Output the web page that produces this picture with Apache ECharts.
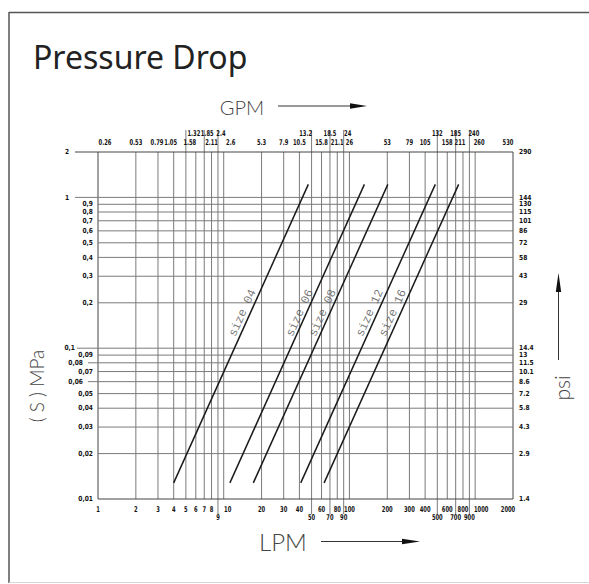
<!DOCTYPE html>
<html><head><meta charset="utf-8">
<script src="https://cdn.jsdelivr.net/npm/echarts@6/dist/echarts.min.js"></script>
<style>html,body{margin:0;padding:0;background:#fff}#c{width:589px;height:584px}</style>
</head><body><div id="c"></div>
<script>
// ---------- data ----------
const lpmTicks = [1,2,3,4,5,6,7,8,9,10,20,30,40,50,60,70,80,90,100,200,300,400,500,600,700,800,900,1000,2000];
const lpmLabels = ['1','2','3','4','5','6','7','8','9','10','20','30','40','50','60','70','80','90','100','200','300','400','500','600','700','800','900','1000','2000'];
const lpmSecondRow = [9,50,70,90,500,700,900];
const gpmLabels = ['0.26','0.53','0.79','1.05','1.32','1.58','1.85','2.11','2.4','2.6','5.3','7.9','10.5','13.2','15.8','18.5','21.1','24','26','53','79','105','132','158','185','211','240','260','530'];
const gpmUpperRow = [5,7,9,50,70,90,500,700,900];
const mpaTicks = [2,1,0.9,0.8,0.7,0.6,0.5,0.4,0.3,0.2,0.1,0.09,0.08,0.07,0.06,0.05,0.04,0.03,0.02,0.01];
const mpaLabels = ['2','1','0,9','0,8','0,7','0,6','0,5','0,4','0,3','0,2','0,1','0,09','0,08','0,07','0,06','0,05','0,04','0,03','0,02','0,01'];
const psiLabels = ['290','144','130','115','101','86','72','58','43','29','14.4','13','11.5','10.1','8.6','7.2','5.8','4.3','2.9','1.4'];
const seriesNames = ['size 04','size 06','size 08','size 12','size 16'];
const size04 = [[4.0,0.0128],[47.1,1.22]];
const size06 = [[11.2,0.0128],[131.5,1.22]];
const size08 = [[17.2,0.0128],[202,1.22]];
const size12 = [[41,0.0128],[482,1.22]];
const size16 = [[62.9,0.0128],[739,1.22]];
const labelAnchors = [[14.2,0.171],[40.5,0.171],[61.7,0.171],[146,0.171],[223,0.171]];

// ---------- chart ----------
const chart = echarts.init(document.getElementById('c'), null, {renderer:'svg'});
const hidden = {axisLine:{show:false}, axisTick:{show:false}, axisLabel:{show:false}, splitLine:{show:false}};
const lineData = [size04,size06,size08,size12,size16];
const DRAFT = "Lato, 'DejaVu Sans', sans-serif";

chart.setOption({
  animation:false,
  backgroundColor:'#fff',
  grid:{left:98, top:152, width:415, height:347},
  xAxis:Object.assign({type:'log', logBase:10, min:1, max:2000}, hidden),
  yAxis:Object.assign({type:'log', logBase:10, min:0.01, max:2}, hidden),
  series: lineData.map((d,i)=>({
    type:'line', name:seriesNames[i], data:d, symbol:'none', silent:true, z:5,
    lineStyle:{color:'#1a1a1a', width:1.5}
  })).concat([{
    type:'scatter', silent:true, symbolSize:0, z:6,
    data: labelAnchors.map((a,i)=>({value:a, name:seriesNames[i]})),
    label:{show:true, position:'inside', rotate:65.7, formatter:p=>p.name,
      color:'#555', fontSize:12, fontFamily:"'Liberation Mono', 'DejaVu Sans Mono', monospace"}
  }])
});

const px = (x,y)=>chart.convertToPixel({gridIndex:0},[x,y]);
const [xL, yB] = px(1,0.01);
const [xR, yT] = px(2000,2);
const g = [];
const GRIDC = '#7a7a7a', BORDER = '#444';
const tickFont = "bold 8px 'DejaVu Sans', sans-serif", sideFont = "bold 7px 'DejaVu Sans', sans-serif";
// small horizontal nudges for crowded tick labels (layout only)
const topNudge = {1:7, 3:-1, 4:-3, 5:8, 6:-6, 7:3, 9:3, 10:7, 50:-6, 90:4, 800:-3, 900:4.5, 1000:4, 2000:-5};
const botNudge = {10:4, 1000:6, 2000:-5};

// vertical lines + LPM / GPM labels
lpmTicks.forEach((v,i)=>{
  const x = px(v,1)[0];
  const up = gpmUpperRow.includes(v);
  const down = lpmSecondRow.includes(v);
  const isBorder = (v===1 || v===2000);
  g.push({type:'line', silent:true, shape:{x1:x, y1: up? yT-22 : yT, x2:x, y2: down? yB+15 : yB},
    style:{stroke: isBorder? BORDER: GRIDC, lineWidth:1}});
  g.push({type:'text', silent:true, x:x+(botNudge[v]||0), y: down? yB+19 : yB+11, scaleX:0.65,
    style:{text:lpmLabels[i], fill:'#111', font:tickFont, textAlign:'center', textVerticalAlign:'middle'}});
  g.push({type:'text', silent:true, x:x+(topNudge[v]||0), y: up? yT-18 : yT-9, scaleX:0.65,
    style:{text:gpmLabels[i], fill:'#111', font:tickFont, textAlign:'center', textVerticalAlign:'middle'}});
});

// horizontal lines + MPa / psi labels
const leftExt = {2:{line:75,label:65,align:'left'}, 1:{line:75,label:65,align:'left'},
  0.1:{line:77,label:75,align:'right'}, 0.08:{line:88,label:83,align:'right'}, 0.06:{line:88,label:83,align:'right'}};
mpaTicks.forEach((v,i)=>{
  const y = px(1,v)[1];
  const ext = leftExt[v];
  const isBorder = (v===2 || v===0.01);
  g.push({type:'line', silent:true, shape:{x1: ext? ext.line : xL, y1:y, x2:xR, y2:y},
    style:{stroke: isBorder? BORDER: GRIDC, lineWidth:1}});
  g.push({type:'text', silent:true, x: ext? ext.label : xL-5, y:y, scaleX:0.85,
    style:{text:mpaLabels[i], fill:'#111', font:sideFont, textAlign: ext? ext.align : 'right', textVerticalAlign:'middle'}});
  g.push({type:'text', silent:true, x: xR+6, y:y, scaleX:0.85,
    style:{text:psiLabels[i], fill:'#111', font:sideFont, textAlign:'left', textVerticalAlign:'middle'}});
});

// axis titles and arrows
g.push({type:'text', silent:true, x:33, y:56, style:{text:'Pressure Drop', fill:'#222', font:"32px 'Noto Sans', sans-serif", textAlign:'left', textVerticalAlign:'middle'}});
g.push({type:'text', silent:true, x:242, y:107, style:{text:'GPM', fill:'#444', font:"300 20px "+DRAFT, textAlign:'center', textVerticalAlign:'middle'}});
g.push({type:'line', silent:true, shape:{x1:278,y1:106,x2:352,y2:106}, style:{stroke:'#333', lineWidth:1}});
g.push({type:'polygon', silent:true, shape:{points:[[350,103.3],[367,106],[350,108.7]]}, style:{fill:'#111'}});
g.push({type:'text', silent:true, x:283, y:541, style:{text:'LPM', fill:'#444', font:"300 24px "+DRAFT, textAlign:'center', textVerticalAlign:'middle'}});
g.push({type:'line', silent:true, shape:{x1:321,y1:541.5,x2:404,y2:541.5}, style:{stroke:'#333', lineWidth:1}});
g.push({type:'polygon', silent:true, shape:{points:[[402,538.8],[420,541.5],[402,544.2]]}, style:{fill:'#111'}});
g.push({type:'text', silent:true, x:36, y:386, rotation:Math.PI/2, style:{text:'( S ) MPa', fill:'#444', font:"300 19px "+DRAFT, textAlign:'center', textVerticalAlign:'middle'}});
g.push({type:'text', silent:true, x:561, y:388, rotation:Math.PI/2, style:{text:'psi', fill:'#444', font:"300 21px "+DRAFT, textAlign:'center', textVerticalAlign:'middle'}});
g.push({type:'line', silent:true, shape:{x1:558.5,y1:290,x2:558.5,y2:360}, style:{stroke:'#333', lineWidth:1}});
g.push({type:'polygon', silent:true, shape:{points:[[555.8,292],[558.5,273],[561.2,292]]}, style:{fill:'#111'}});

// outer frame
g.push({type:'line', silent:true, shape:{x1:9,y1:12.5,x2:589,y2:12.5}, style:{stroke:'#555', lineWidth:1.5}});
g.push({type:'line', silent:true, shape:{x1:9,y1:12,x2:9,y2:583}, style:{stroke:'#555', lineWidth:1.5}});
g.push({type:'line', silent:true, shape:{x1:9,y1:582.5,x2:589,y2:582.5}, style:{stroke:'#d6d6d6', lineWidth:1}});

chart.setOption({graphic:{elements:g}});
</script></body></html>
